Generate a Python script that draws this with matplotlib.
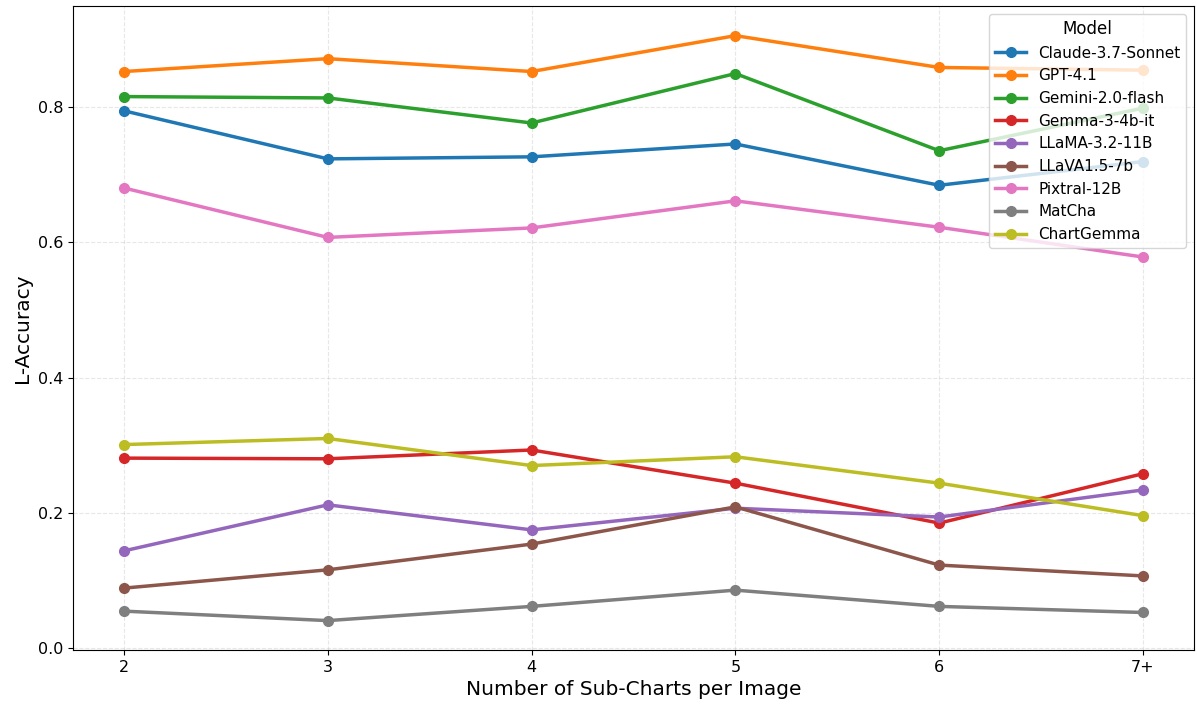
import matplotlib
matplotlib.use("Agg")
import matplotlib.pyplot as plt
import numpy as np

x_labels = ['2', '3', '4', '5', '6', '7+']

claude     = [0.794, 0.723, 0.726, 0.745, 0.684, 0.719]
gpt41      = [0.852, 0.871, 0.852, 0.905, 0.858, 0.854]
gemini     = [0.815, 0.813, 0.776, 0.849, 0.735, 0.798]
gemma      = [0.281, 0.280, 0.293, 0.244, 0.185, 0.258]
llama      = [0.144, 0.212, 0.175, 0.207, 0.194, 0.234]
llava      = [0.089, 0.116, 0.154, 0.209, 0.123, 0.107]
pixtral    = [0.680, 0.607, 0.621, 0.661, 0.622, 0.578]
matcha     = [0.055, 0.041, 0.062, 0.086, 0.062, 0.053]
chartgemma = [0.301, 0.310, 0.270, 0.283, 0.244, 0.196]

models = ['Claude-3.7-Sonnet', 'GPT-4.1', 'Gemini-2.0-flash', 'Gemma-3-4b-it',
          'LLaMA-3.2-11B', 'LLaVA1.5-7b', 'Pixtral-12B', 'MatCha', 'ChartGemma']
series = [claude, gpt41, gemini, gemma, llama, llava, pixtral, matcha, chartgemma]

fig, ax = plt.subplots(figsize=(11.97, 7.11), dpi=100)
xs = np.arange(len(x_labels))

for name, vals in zip(models, series):
    ax.plot(xs, vals, marker='o', lw=2.5, ms=7, label=name)

ax.set_xticks(xs)
ax.set_xticklabels(x_labels)
ax.tick_params(labelsize=11.5)
ax.set_xlabel('Number of Sub-Charts per Image', fontsize=14.5)
ax.set_ylabel('L-Accuracy', fontsize=14.5)
ax.grid(True, linestyle='--', alpha=0.3)
ax.legend(title='Model', loc='upper right', fontsize=11, title_fontsize=12)

fig.subplots_adjust(left=0.061, right=0.9975, top=0.991, bottom=0.086)
plt.savefig('out.png', dpi=100)
